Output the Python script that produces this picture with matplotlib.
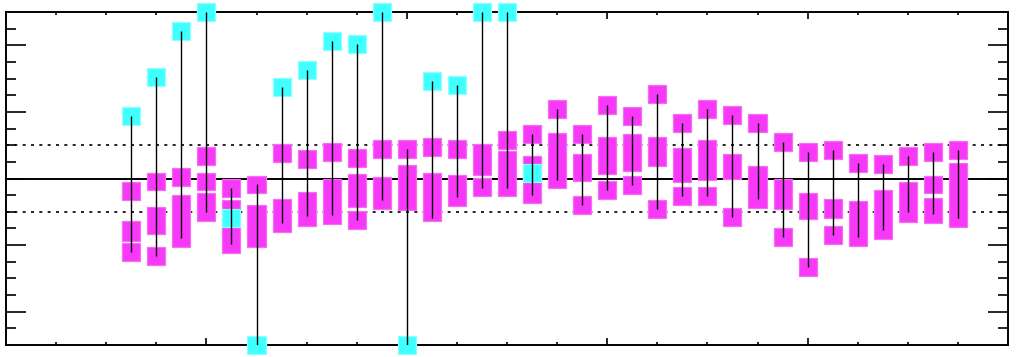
import matplotlib

matplotlib.use("Agg")
import matplotlib.pyplot as plt
import numpy as np

# column positions
x_pos = [2.5, 3.0, 3.5, 4.0, 4.5, 5.0, 5.5, 6.0, 6.5, 7.0, 7.5, 8.0,
         8.5, 9.0, 9.5, 10.0, 10.5, 11.0, 11.5, 12.0, 12.5, 13.0, 13.5,
         14.0, 14.5, 15.0, 15.5, 16.0, 16.5, 17.0, 17.5, 18.0, 18.5, 19.0]

# box extents
box_lo = [-1.89, -1.67, -2.07, -1.29, -2.24, -2.07, -1.62, -1.42, -1.36,
          -0.87, -0.91, -0.94, -1.29, -0.84, 0.12, -0.54, -0.75, -0.30,
          -0.09, 0.13, 0.24, 0.39, -0.12, -0.04, -0.02, -0.88, -0.91,
          -1.21, -1.20, -2.04, -1.82, -1.31, -1.33, -1.47]
box_hi = [-1.29, -0.87, -0.51, -0.43, -0.64, -0.81, -0.62, -0.40, 0.00,
          0.13, 0.06, 0.42, 0.16, 0.11, 1.04, 0.83, 0.69, 1.37,
          0.75, 1.26, 1.34, 1.26, 0.93, 1.16, 0.75, 0.39, -0.03,
          -0.44, -0.62, -0.67, -0.34, -0.11, -0.58, 0.48]

# vertical range lines
line_lo = [-2.22, -2.33, -1.79, -1.00, -1.97, -5.00, -1.34, -1.14, -1.09,
           -1.24, -0.64, -5.00, -1.20, -0.56, -0.29, -0.29, -0.49, -0.04,
           -0.81, -0.34, -0.19, -0.91, -0.54, -0.54, -1.16, -0.61, -1.77,
           -2.66, -1.69, -1.77, -1.54, -1.02, -1.06, -1.19]
line_hi = [1.88, 3.05, 4.43, 5.00, -0.29, -0.18, 2.76, 3.27, 4.14,
           4.05, 5.00, 0.89, 2.93, 2.81, 5.00, 5.00, 1.33, 2.09,
           1.35, 2.21, 1.89, 2.55, 1.68, 2.09, 1.91, 1.68, 1.11,
           0.81, 0.86, 0.46, 0.44, 0.69, 0.79, 0.85]

# magenta point markers per column
mag_pts = [[-0.38, -2.22], [-0.09, -2.33], [0.05], [0.69, -0.09], [-0.29],
           [-0.18], [0.77], [0.59], [0.79], [0.62, -1.24], [0.89], [0.89],
           [0.96], [0.89], [-0.26], [1.16], [1.33], [2.09], [1.35, -0.81],
           [2.21, -0.34], [1.89, -0.19], [2.55, -0.91], [1.68, -0.54],
           [2.09, -0.54], [1.91, -1.16], [1.68], [1.11, -1.77],
           [0.81, -2.66], [0.86, -1.69], [0.46], [0.44], [0.69],
           [0.79, -0.18], [0.85]]

# cyan point markers (None = no cyan point)
cyan_pts = [1.88, 3.05, 4.43, 5.0, -1.2, -5.0, 2.76, 3.27, 4.14, 4.05, 5.0,
            -5.0, 2.93, 2.81, 5.0, 5.0, 0.17, None, None, None, None, None,
            None, None, None, None, None, None, None, None, None, None,
            None, None]

MAG = "#f838f8"
MAG_EDGE = "#f070f0"
CYAN = "#40ffff"
CYAN_EDGE = "#90ffff"
W = 0.36
H = 0.54

fig = plt.figure(figsize=(10.24, 3.57), dpi=100)
ax = fig.add_axes([6 / 1024, 12 / 357, 1002 / 1024, 333 / 357])

# reference lines
ax.axhline(0, color="black", lw=1.4, zorder=1)
for yy in (1, -1):
    ax.axhline(yy, color="black", lw=1.2, ls=(0, (1.8, 3.2)), zorder=1)

# boxes
ax.bar(x_pos, np.array(box_hi) - np.array(box_lo), bottom=box_lo, width=W,
       color=MAG, edgecolor=MAG_EDGE, linewidth=0.9, zorder=2)

# magenta markers
mx, my = [], []
for x, pts in zip(x_pos, mag_pts):
    for p in pts:
        mx.append(x)
        my.append(p)
ax.bar(mx, H, bottom=np.array(my) - H / 2, width=W, color=MAG,
       edgecolor=MAG_EDGE, linewidth=0.9, zorder=2)

# cyan markers
cx = [x for x, c in zip(x_pos, cyan_pts) if c is not None]
cy = np.array([c for c in cyan_pts if c is not None])
cbars = ax.bar(cx, H, bottom=cy - H / 2, width=W, color=CYAN,
               edgecolor=CYAN_EDGE, linewidth=0.9, zorder=3)
for b in cbars:
    b.set_clip_on(False)

# range lines
ax.vlines(x_pos, line_lo, line_hi, color="black", lw=1.0, zorder=4)

ax.set_xlim(0, 20)
ax.set_ylim(-5, 5)
ax.set_xticks([4, 8, 12, 16])
ax.set_xticks(np.arange(1, 20), minor=True)
ax.set_yticks([-4, -2, 0, 2, 4])
ax.set_yticks(np.arange(-4.5, 5, 0.5), minor=True)
ax.tick_params(which="both", direction="in", top=True, right=True,
               labelbottom=False, labelleft=False, width=1.2, color="black")
ax.tick_params(axis="y", which="major", length=14.4)
ax.tick_params(axis="y", which="minor", length=7.2)
ax.tick_params(axis="x", which="major", length=5)
ax.tick_params(axis="x", which="minor", length=2.2)
for s in ax.spines.values():
    s.set_linewidth(1.4)

fig.savefig("out.png", dpi=100)
